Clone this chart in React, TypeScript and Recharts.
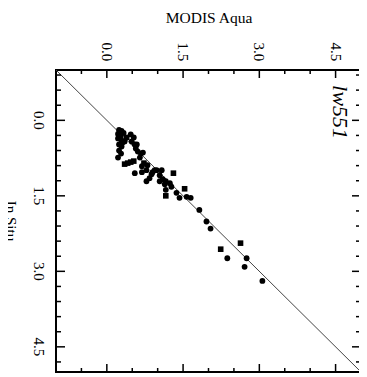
import { ScatterChart, Scatter, XAxis, YAxis, ReferenceLine, ReferenceArea } from 'recharts'

const W = 367
const H = 377
// plot box inside the svg (px)
const PLOT = { left: 56, top: 70, right: 361, bottom: 372 }
const FONT = 'Liberation Serif, Times New Roman, serif'

const domain: [number, number] = [-1, 5]
const majorTicks = [0, 1.5, 3, 4.5]
const xTicks = [-0.5, 0, 0.5, 1, 1.5, 2, 2.5, 3, 3.5, 4, 4.5]
const yTicks = [-0.9, -0.6, -0.3, 0, 0.3, 0.6, 0.9, 1.2, 1.5, 1.8, 2.1, 2.4, 2.7, 3, 3.3, 3.6, 3.9, 4.2, 4.5, 4.8]

// matchups drawn as round markers
const roundModis = [
  0.24, 0.29, 0.22, 0.28, 0.33, 0.22, 0.28, 0.35, 0.24, 0.29, 0.24, 0.28, 0.22,
  0.47, 0.53, 0.49, 0.55, 0.57, 0.61, 0.67, 0.71, 0.65, 0.59,
  0.55, 0.69, 0.78, 0.69, 0.78, 0.84, 0.88, 0.94, 0.98, 1.04, 1.08, 1.10, 1.16,
  1.14, 1.24, 1.16, 1.27, 1.37, 1.43, 1.57, 1.65, 1.82, 1.96, 2.04, 2.37, 2.75,
  2.71, 3.06, 0.90, 1.04, 0.80, 0.26, 0.31,
]
const roundInSitu = [
  0.19, 0.21, 0.27, 0.28, 0.25, 0.36, 0.38, 0.42, 0.48, 0.52, 0.60, 0.66, 0.74,
  0.28, 0.34, 0.42, 0.48, 0.56, 0.62, 0.66, 0.64, 0.74, 0.48,
  1.05, 0.91, 0.99, 1.03, 1.21, 1.15, 1.07, 0.99, 0.99, 1.09, 0.99, 1.17, 1.21,
  1.27, 1.25, 1.38, 1.32, 1.44, 1.54, 1.52, 1.54, 1.78, 2.01, 2.15, 2.74, 2.74,
  2.91, 3.19, 1.03, 1.21, 0.89, 0.31, 0.44,
]

// matchups drawn as square markers
const squareModis = [0.39, 0.35, 0.41, 0.47, 0.53, 0.73, 1.31, 1.16, 1.53, 2.24, 2.63]
const squareInSitu = [0.34, 0.87, 0.85, 0.83, 0.81, 0.85, 1.05, 1.50, 1.36, 2.56, 2.44]

const roundPts = roundModis.map((m, i) => ({ modis: m, situ: roundInSitu[i] }))
const squarePts = squareModis.map((m, i) => ({ modis: m, situ: squareInSitu[i] }))

const isMajor = (v: number) => majorTicks.some((t) => Math.abs(t - v) < 1e-6)

function TopTick(props: any) {
  const { x, payload } = props
  const len = isMajor(payload.value) ? 8 : 4
  return (
    <g>
      <line x1={x} y1={PLOT.top} x2={x} y2={PLOT.top + len} stroke="#000" strokeWidth={1.5} />
      <line x1={x} y1={PLOT.bottom} x2={x} y2={PLOT.bottom - len} stroke="#000" strokeWidth={1.5} />
      {isMajor(payload.value) && (
        <text
          x={x}
          y={52}
          transform={`rotate(90, ${x}, 52)`}
          textAnchor="middle"
          dominantBaseline="central"
          fontFamily={FONT}
          fontSize={15}
          fill="#000"
        >
          {payload.value.toFixed(1)}
        </text>
      )}
    </g>
  )
}

function LeftTick(props: any) {
  const { y, payload } = props
  const len = isMajor(payload.value) ? 9 : 5
  return (
    <g>
      <line x1={PLOT.left} y1={y} x2={PLOT.left + len} y2={y} stroke="#000" strokeWidth={1.5} />
      <line x1={PLOT.right} y1={y} x2={PLOT.right - len} y2={y} stroke="#000" strokeWidth={1.5} />
      {isMajor(payload.value) && (
        <text
          x={39}
          y={y}
          transform={`rotate(90, 39, ${y})`}
          textAnchor="middle"
          dominantBaseline="central"
          fontFamily={FONT}
          fontSize={15}
          fill="#000"
        >
          {payload.value.toFixed(1)}
        </text>
      )}
    </g>
  )
}

const Dot = (p: any) => <circle cx={p.cx} cy={p.cy} r={2.9} fill="#000" />
const Box = (p: any) => <rect x={p.cx - 2.8} y={p.cy - 2.8} width={5.6} height={5.6} fill="#000" />

export default function App() {
  return (
    <div style={{ margin: '-8px 0 0 -8px', width: W, height: H }}>
      <ScatterChart
        width={W}
        height={H}
        margin={{ top: 0, left: 0, right: W - PLOT.right, bottom: H - PLOT.bottom }}
      >
        <XAxis
          type="number"
          dataKey="modis"
          orientation="top"
          domain={domain}
          ticks={xTicks}
          interval={0}
          height={PLOT.top}
          axisLine={false}
          tickLine={false}
          tick={<TopTick />}
        />
        <YAxis
          type="number"
          dataKey="situ"
          reversed
          domain={domain}
          ticks={yTicks}
          interval={0}
          width={PLOT.left}
          axisLine={false}
          tickLine={false}
          tick={<LeftTick />}
        />
        <ReferenceArea x1={-1} x2={5} y1={-1} y2={5} fill="none" stroke="#000" strokeWidth={2} fillOpacity={0} />
        <ReferenceLine segment={[{ x: -1, y: -1 }, { x: 5, y: 5 }]} stroke="#444" strokeWidth={1} />
        <Scatter data={roundPts} shape={Dot} isAnimationActive={false} />
        <Scatter data={squarePts} shape={Box} isAnimationActive={false} />
        <text x={209} y={17} textAnchor="middle" dominantBaseline="central" fontFamily={FONT} fontSize={15.5} fill="#000">
          MODIS Aqua
        </text>
        <text
          x={11}
          y={221}
          transform="rotate(90, 11, 221)"
          textAnchor="middle"
          dominantBaseline="central"
          fontFamily={FONT}
          fontSize={15}
          fill="#000"
        >
          In Situ
        </text>
        <text
          x={340}
          y={112}
          transform="rotate(90, 340, 112)"
          textAnchor="middle"
          dominantBaseline="central"
          fontFamily={FONT}
          fontStyle="italic"
          fontSize={22}
          fill="#000"
        >
          lw551
        </text>
      </ScatterChart>
    </div>
  )
}
